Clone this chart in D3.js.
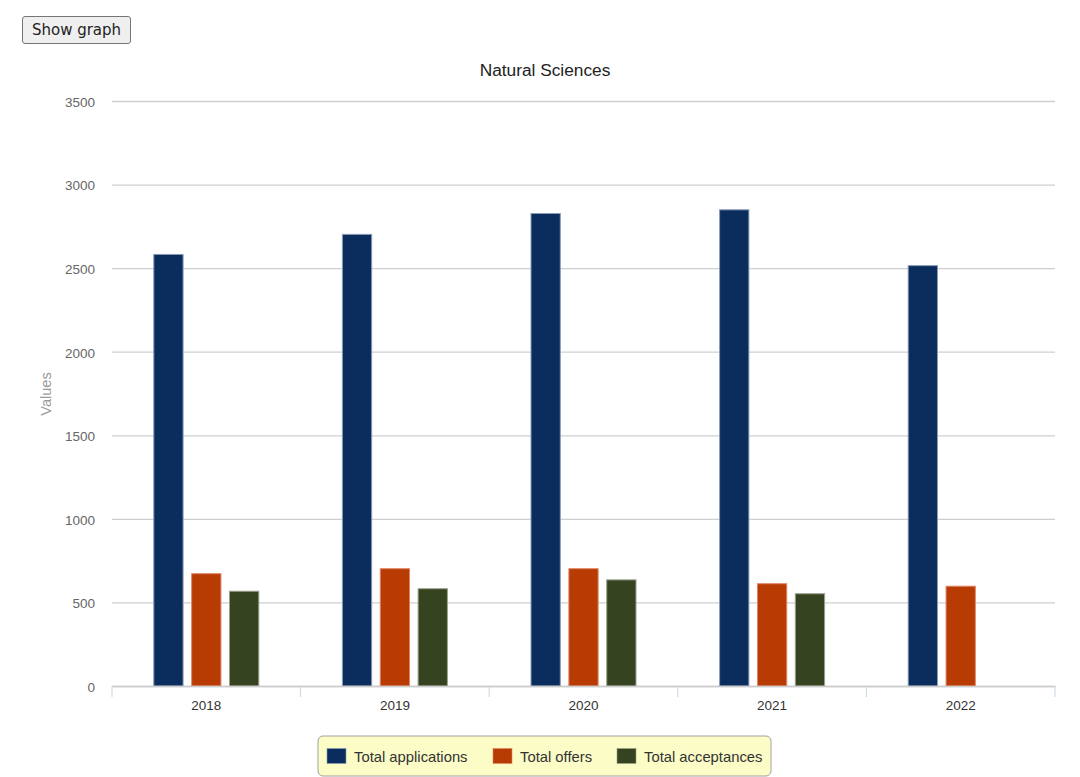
<!DOCTYPE html>
<html>
<head>
<meta charset="utf-8">
<script src="https://cdn.jsdelivr.net/npm/d3@7"></script>
<style>
  body { margin: 0; background: #fff; }
  #show-btn {
    position: absolute; left: 22px; top: 16px; width: 109px; height: 28px;
    font: 15px "DejaVu Sans", Verdana, sans-serif; color: #222;
    background: #efefef; border: 1px solid #767676; border-radius: 3px; padding: 0;
  }
  #chart { position: absolute; left: 0; top: 0; }
</style>
</head>
<body>
<button id="show-btn">Show graph</button>
<div id="chart"></div>
<script>
// data
const years = ["2018", "2019", "2020", "2021", "2022"];
const seriesNames = ["Total applications", "Total offers", "Total acceptances"];
const applications = [2585, 2705, 2830, 2852, 2518];
const offers = [675, 705, 705, 615, 600];
const acceptances = [570, 585, 638, 555, null];
const yTicks = [0, 500, 1000, 1500, 2000, 2500, 3000, 3500];

const colors = ["#0b2d5d", "#b83b04", "#364320"],
  strokes = ["#8a9bb8", "#e0876a", "#9ba08c"];

function drawBarChart(cWidth, cHeight) {
  const margin = { left: 112, top: 101, right: 25, bottom: 91 },
    w = cWidth - margin.left - margin.right,
    h = cHeight - margin.top - margin.bottom,
    svg = d3
      .select("#chart")
      .append("svg")
      .attr("width", cWidth)
      .attr("height", cHeight)
      .style("font-family", "'Liberation Sans', Arial, sans-serif");

  const seriesData = [applications, offers, acceptances];

  const x0 = d3.scaleBand().domain(years).range([0, w]).padding(0),
    groupW = 106,
    x1 = d3
      .scaleBand()
      .domain(seriesNames)
      .range([0, groupW])
      .paddingInner(0.2)
      .paddingOuter(0),
    y = d3.scaleLinear().domain([0, 3500]).range([h, 0]);

  svg
    .append("text")
    .attr("x", 545)
    .attr("y", 76)
    .attr("text-anchor", "middle")
    .attr("font-size", 17.3)
    .attr("fill", "#222")
    .text("Natural Sciences");

  const g = svg
    .append("g")
    .attr("transform", `translate(${margin.left}, ${margin.top})`);

  // grid + y labels
  const yAxis = g
    .append("g")
    .call(
      d3.axisLeft(y).tickValues(yTicks).tickFormat(d3.format("d")).tickSize(-w).tickPadding(17)
    );
  yAxis.select(".domain").remove();
  yAxis.selectAll(".tick line").attr("stroke", "#cfcfcf").attr("stroke-width", 1.3);
  yAxis
    .selectAll(".tick text")
    .attr("fill", "#666")
    .attr("font-size", 13.5)
    .attr("dy", "0.4em")
    .attr("font-family", "'Liberation Sans', Arial, sans-serif");

  svg
    .append("text")
    .attr("transform", `translate(51, 394) rotate(-90)`)
    .attr("text-anchor", "middle")
    .attr("font-size", 14.5)
    .attr("fill", "#999")
    .text("Values");

  // bars
  seriesData.forEach((vals, i) => {
    g.selectAll(".bar-" + i)
      .data(years.map((yr, j) => ({ yr, v: vals[j] })).filter(d => d.v != null))
      .enter()
      .append("rect")
      .attr("x", d => x0(d.yr) + x0.bandwidth() / 2 - groupW / 2 + x1(seriesNames[i]) + 0.5)
      .attr("y", d => y(d.v) + 0.5)
      .attr("width", x1.bandwidth() - 1)
      .attr("height", d => h - y(d.v) - 0.5)
      .attr("fill", colors[i])
      .attr("stroke", strokes[i])
      .attr("stroke-width", 1);
  });

  // x axis
  const xAxis = g
    .append("g")
    .attr("transform", `translate(0, ${h})`)
    .call(d3.axisBottom(x0).tickSize(0).tickPadding(14));
  xAxis.select(".domain").attr("stroke", "#ccc").attr("stroke-width", 1.5);
  xAxis
    .selectAll(".tick text")
    .attr("fill", "#333")
    .attr("font-size", 13.5)
    .attr("font-family", "'Liberation Sans', Arial, sans-serif");

  const edges = years.map(yr => x0(yr)).concat([w]);
  g.selectAll(".xtick")
    .data(edges)
    .enter()
    .append("line")
    .attr("x1", d => d)
    .attr("x2", d => d)
    .attr("y1", h)
    .attr("y2", h + 11)
    .attr("stroke", "#c8d4e2")
    .attr("stroke-width", 1);

  // legend
  const lg = svg.append("g").attr("transform", "translate(318, 736)");
  lg.append("rect")
    .attr("width", 453)
    .attr("height", 40)
    .attr("rx", 5)
    .attr("fill", "#fbfcc6")
    .attr("stroke", "#a0a0a0")
    .attr("stroke-width", 1);
  const itemX = [9, 175, 299];
  seriesNames.forEach((name, i) => {
    lg.append("rect")
      .attr("x", itemX[i])
      .attr("y", 12.5)
      .attr("width", 19)
      .attr("height", 15)
      .attr("fill", colors[i])
      .attr("stroke", strokes[i])
      .attr("stroke-width", 0.6);
    lg.append("text")
      .attr("x", itemX[i] + 27)
      .attr("y", 25.5)
      .attr("font-size", 14.8)
      .attr("fill", "#333")
      .text(name);
  });
}

drawBarChart(1080, 777);
</script>
</body>
</html>
